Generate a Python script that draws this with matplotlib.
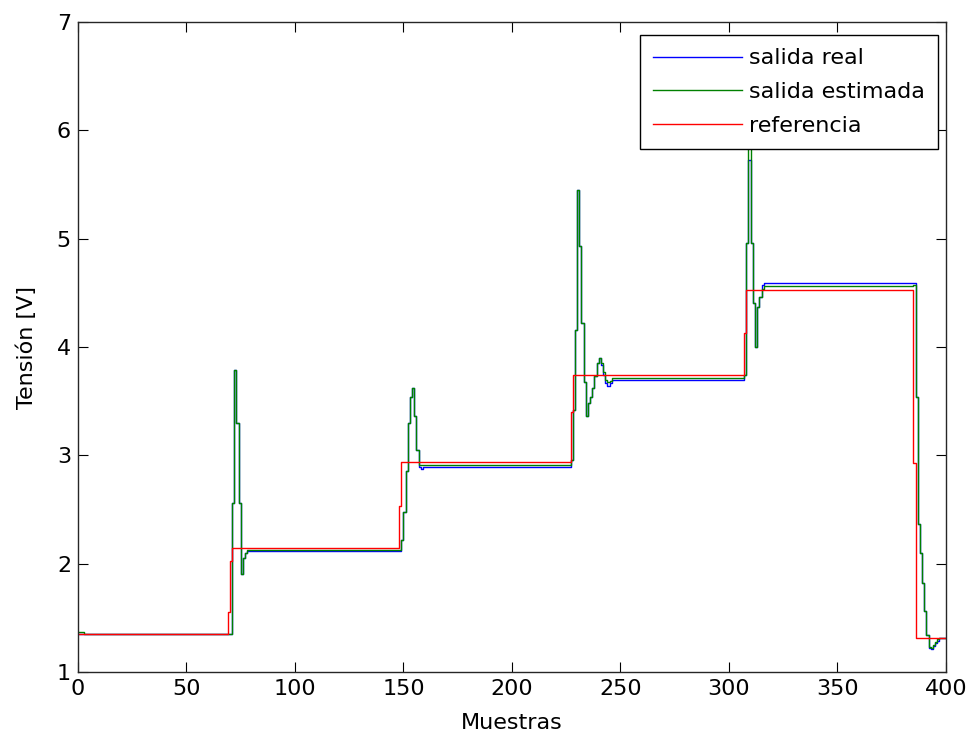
import matplotlib
matplotlib.use("Agg")
import matplotlib.pyplot as plt

# step breakpoints (sample index, value), drawn as stairs
ref_x = [0, 69, 70, 71, 148, 149, 227, 228, 307, 308, 385, 386, 400]
ref_y = [1.35, 1.55, 2.02, 2.14, 2.53, 2.94, 3.40, 3.74, 4.13, 4.53, 2.93, 1.31, 1.31]

est_x = [0, 3, 71, 72, 73, 74, 75, 76, 77, 78,
         149, 150, 151, 152, 153, 154, 155, 156, 157, 158,
         227, 228, 229, 230, 231, 232, 233, 234, 235, 236, 237, 238, 239, 240,
         241, 242, 243, 244, 245, 246,
         307, 308, 309, 310, 311, 312, 313, 314, 315, 316,
         385, 386, 387, 388, 389, 390, 391, 392, 393, 394, 395, 396, 397, 400]
est_y = [1.37, 1.35, 2.56, 3.79, 3.30, 2.56, 1.90, 2.05, 2.10, 2.13,
         2.22, 2.48, 2.86, 3.30, 3.54, 3.62, 3.36, 3.05, 2.91, 2.91,
         2.96, 3.42, 4.16, 5.45, 4.93, 4.22, 3.68, 3.36, 3.48, 3.54, 3.62, 3.73, 3.85, 3.90,
         3.85, 3.77, 3.70, 3.68, 3.69, 3.715,
         3.74, 4.96, 6.10, 4.96, 4.41, 4.00, 4.37, 4.46, 4.54, 4.56,
         4.57, 3.54, 2.37, 2.10, 1.82, 1.56, 1.34, 1.23, 1.22, 1.25, 1.28, 1.30, 1.31, 1.31]

real_x = [0, 71, 72, 73, 74, 75, 76, 77, 78,
          149, 150, 151, 152, 153, 154, 155, 156, 157, 158, 159,
          227, 228, 229, 230, 231, 232, 233, 234, 235, 236, 237, 238, 239, 240,
          241, 242, 243, 244, 245, 246,
          307, 308, 309, 310, 311, 312, 313, 314, 315, 316,
          385, 386, 387, 388, 389, 390, 391, 392, 393, 394, 395, 396, 397, 400]
real_y = [1.35, 2.56, 3.79, 3.30, 2.56, 1.90, 2.05, 2.10, 2.12,
          2.22, 2.48, 2.86, 3.30, 3.54, 3.62, 3.36, 3.05, 2.89, 2.87, 2.895,
          2.96, 3.42, 4.16, 5.45, 4.93, 4.22, 3.68, 3.36, 3.48, 3.54, 3.62, 3.73, 3.85, 3.90,
          3.83, 3.74, 3.67, 3.64, 3.67, 3.70,
          3.74, 4.96, 5.73, 4.96, 4.41, 4.00, 4.37, 4.46, 4.57, 4.59,
          4.59, 3.54, 2.37, 2.10, 1.82, 1.56, 1.34, 1.22, 1.21, 1.24, 1.27, 1.29, 1.31, 1.31]

plt.rcParams['font.family'] = ['DejaVu Sans']
plt.rcParams['font.size'] = 16

fig = plt.figure(figsize=(9.72, 7.36), dpi=100)
ax = fig.add_axes([0.0802, 0.087, 0.893, 0.883])

ax.plot(real_x, real_y, color=(0, 0, 1), lw=1.0, drawstyle='steps-post', label='salida real')
ax.plot(est_x, est_y, color=(0, 0.5, 0), lw=1.0, drawstyle='steps-post', label='salida estimada')
ax.plot(ref_x, ref_y, color=(1, 0, 0), lw=1.0, drawstyle='steps-post', label='referencia')

ax.set_xlim(0, 400)
ax.set_ylim(1, 7)
ax.set_xticks(range(0, 401, 50))
ax.set_yticks(range(1, 8))
ax.tick_params(direction='in', top=True, right=True, length=7, width=0.8, pad=5)
for s in ax.spines.values():
    s.set_linewidth(1.0)
    s.set_color('#262626')

ax.set_xlabel('Muestras', labelpad=10)
ax.set_ylabel('Tensión [V]', labelpad=14)

leg = ax.legend(loc='upper right', bbox_to_anchor=(0.991, 0.98), borderaxespad=0,
                fancybox=False, framealpha=1, edgecolor='black', handlelength=4.0,
                borderpad=0.6, labelspacing=0.62, handletextpad=0.3)
leg.get_frame().set_linewidth(1.0)

fig.savefig('out.png', dpi=100)
